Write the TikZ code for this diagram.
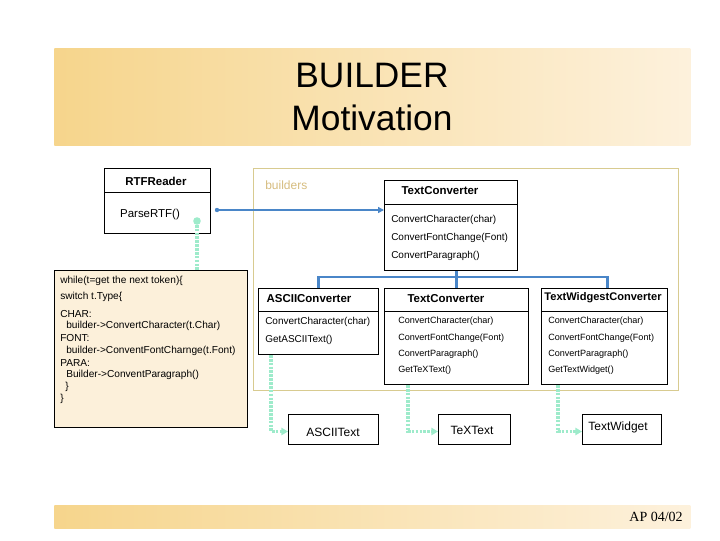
\documentclass[tikz,border=0pt]{standalone}
\usepackage{fontspec}
\setmainfont{Liberation Sans}
\newfontfamily\footserif{Liberation Serif}
\usetikzlibrary{arrows.meta,calc}
\definecolor{bandL}{HTML}{F6D58C}
\definecolor{bandR}{HTML}{FDF1DC}
\definecolor{frametan}{HTML}{D8CB90}
\definecolor{tantext}{HTML}{D6BC7E}
\definecolor{notefill}{HTML}{FCF0DA}
\definecolor{linkblue}{HTML}{4A86C8}
\definecolor{mint}{HTML}{9EEBCB}
\begin{document}
\begin{tikzpicture}[x=0.75pt,y=-0.75pt,
  box/.style={draw=black, line width=0.75pt, anchor=north west, inner sep=0pt},
  band/.style={anchor=north west, inner sep=0pt, left color=bandL, right color=bandR, draw=none},
  head/.style={font=\fontsize{8.6}{10}\selectfont\bfseries, inner sep=0pt},
  meth/.style={font=\fontsize{7.5}{9}\selectfont, anchor=west, inner sep=0pt},
  smeth/.style={font=\fontsize{6.8}{8}\selectfont, anchor=west, inner sep=0pt},
  notetxt/.style={font=\fontsize{7.6}{9}\selectfont, anchor=west, inner sep=0pt},
  lbl/.style={font=\fontsize{9}{11}\selectfont, inner sep=0pt},
  blueline/.style={draw=linkblue, line width=1.6pt},
  bluetree/.style={draw=linkblue, line width=2.2pt},
  greenlink/.style={draw=mint, line width=2.6pt, dash pattern=on 2pt off 0.9pt},
  divider/.style={draw=black, line width=0.75pt}]
\useasboundingbox (0,0) rectangle (720,540);

% title band
\node[band, minimum width=636*0.75pt, minimum height=97*0.75pt] (title) at (54,48) {};
\node[font=\fontsize{26.5}{32}\selectfont, align=center, inner sep=0pt] (titletext) at (372,97) {BUILDER\\Motivation};

% footer band
\node[band, minimum width=636*0.75pt, minimum height=23*0.75pt] (footer) at (54,505) {};
\node[font=\footserif\fontsize{10.5}{12}\selectfont, anchor=east, inner sep=0pt] (foottext) at (683,517) {AP 04/02};

% builders frame
\node[box, draw=frametan, minimum width=425*0.75pt, minimum height=222*0.75pt] (frame) at (253,168) {};
\node[lbl, text=tantext, anchor=west] (builders) at (265,185) {builders};

% RTFReader
\node[box, minimum width=106*0.75pt, minimum height=65*0.75pt] (rtf) at (104,168) {};
\draw[divider] (rtf.west |- 0,192) -- (rtf.east |- 0,192);
\node[head] (rtfh) at (156,181) {RTFReader};
\node[lbl, font=\fontsize{8.6}{10}\selectfont] (parse) at (150,215) {ParseRTF()};

% top TextConverter
\node[box, minimum width=133*0.75pt, minimum height=90*0.75pt] (tc) at (384,180) {};
\draw[divider] (tc.west |- 0,204) -- (tc.east |- 0,204);
\node[head] (tch) at (440,191) {TextConverter};
\node[meth] (tcm1) at (391,220) {ConvertCharacter(char)};
\node[meth] (tcm2) at (391,238) {ConvertFontChange(Font)};
\node[meth] (tcm3) at (391,256) {ConvertParagraph()};

% ASCIIConverter
\node[box, minimum width=120*0.75pt, minimum height=66*0.75pt] (ac) at (258,288) {};
\draw[divider] (ac.west |- 0,311) -- (ac.east |- 0,311);
\node[head] (ach) at (309,299) {ASCIIConverter};
\node[meth] (acm1) at (265,322) {ConvertCharacter(char)};
\node[meth] (acm2) at (265,340) {GetASCIIText()};

% TextConverter (concrete)
\node[box, minimum width=144*0.75pt, minimum height=96*0.75pt] (tc2) at (384,288) {};
\draw[divider] (tc2.west |- 0,311) -- (tc2.east |- 0,311);
\node[head] (tc2h) at (446,299) {TextConverter};
\node[smeth] (tc2m1) at (398,321) {ConvertCharacter(char)};
\node[smeth] (tc2m2) at (398,338) {ConvertFontChange(Font)};
\node[smeth] (tc2m3) at (398,354) {ConvertParagraph()};
\node[smeth] (tc2m4) at (398,370) {GetTeXText()};

% TextWidgestConverter
\node[box, minimum width=126*0.75pt, minimum height=96*0.75pt] (tw) at (541,288) {};
\draw[divider] (tw.west |- 0,311) -- (tw.east |- 0,311);
\node[head, font=\fontsize{8.3}{10}\selectfont\bfseries] (twh) at (603,298) {TextWidgestConverter};
\node[smeth] (twm1) at (548,321) {ConvertCharacter(char)};
\node[smeth] (twm2) at (548,338) {ConvertFontChange(Font)};
\node[smeth] (twm3) at (548,354) {ConvertParagraph()};
\node[smeth] (twm4) at (548,370) {GetTextWidget()};

% products
\node[box, minimum width=90*0.75pt, minimum height=30*0.75pt] (at) at (288,414) {};
\node[lbl] (att) at (333,432) {ASCIIText};
\node[box, minimum width=72*0.75pt, minimum height=30*0.75pt] (tt) at (438,414) {};
\node[lbl] (ttt) at (472,430) {TeXText};
\node[box, minimum width=79*0.75pt, minimum height=30*0.75pt] (wt) at (582,414) {};
\node[lbl] (wtt) at (618,427) {TextWidget};

% note
\node[box, fill=notefill, minimum width=193*0.75pt, minimum height=157*0.75pt] (note) at (54,270) {};
\node[notetxt] (n1) at (60,281) {while(t=get the next token)\{};
\node[notetxt] (n2) at (60,297) {switch t.Type\{};
\node[notetxt] (n3) at (60,314) {CHAR:};
\node[notetxt] (n4) at (66,326) {builder->ConvertCharacter(t.Char)};
\node[notetxt] (n5) at (60,338) {FONT:};
\node[notetxt] (n6) at (66,351) {builder->ConventFontCharnge(t.Font)};
\node[notetxt] (n7) at (60,363) {PARA:};
\node[notetxt] (n8) at (66,375) {Builder->ConventParagraph()};
\node[notetxt] (n9) at (65,387) {\}};
\node[notetxt] (n10) at (60,399) {\}};

% blue association arrow
\coordinate (bstart) at ($(rtf.north east)+(6,42)$);
\fill[linkblue] (bstart) circle (2.2);
\draw[blueline, -{Triangle[length=4.5pt,width=4.5pt]}] (bstart) -- (tc.west |- bstart);

% blue inheritance tree
\coordinate (trunk) at (tc2.north |- 0,277);
\draw[bluetree] (tc2.north |- tc.south) -- (tc2.north);
\draw[bluetree] (ac.north) |- (trunk) -| ($(tw.north)+(3,0)$);

% green dotted links
\coordinate (gdot) at (197,221);
\draw[greenlink] (gdot) -- (gdot |- note.north);
\fill[mint] (gdot) circle (3.8);
\draw[greenlink, -{Triangle[length=5pt,width=5.5pt]}] ($(ac.south west)+(13,0)$) |- ($(at.west)+(0,2)$);
\draw[greenlink, -{Triangle[length=5pt,width=5.5pt]}] ($(tc2.south west)+(24,0)$) |- ($(tt.west)+(0,2)$);
\draw[greenlink, -{Triangle[length=5pt,width=5.5pt]}] ($(tw.south west)+(17,0)$) |- ($(wt.west)+(0,2)$);
\end{tikzpicture}
\end{document}
